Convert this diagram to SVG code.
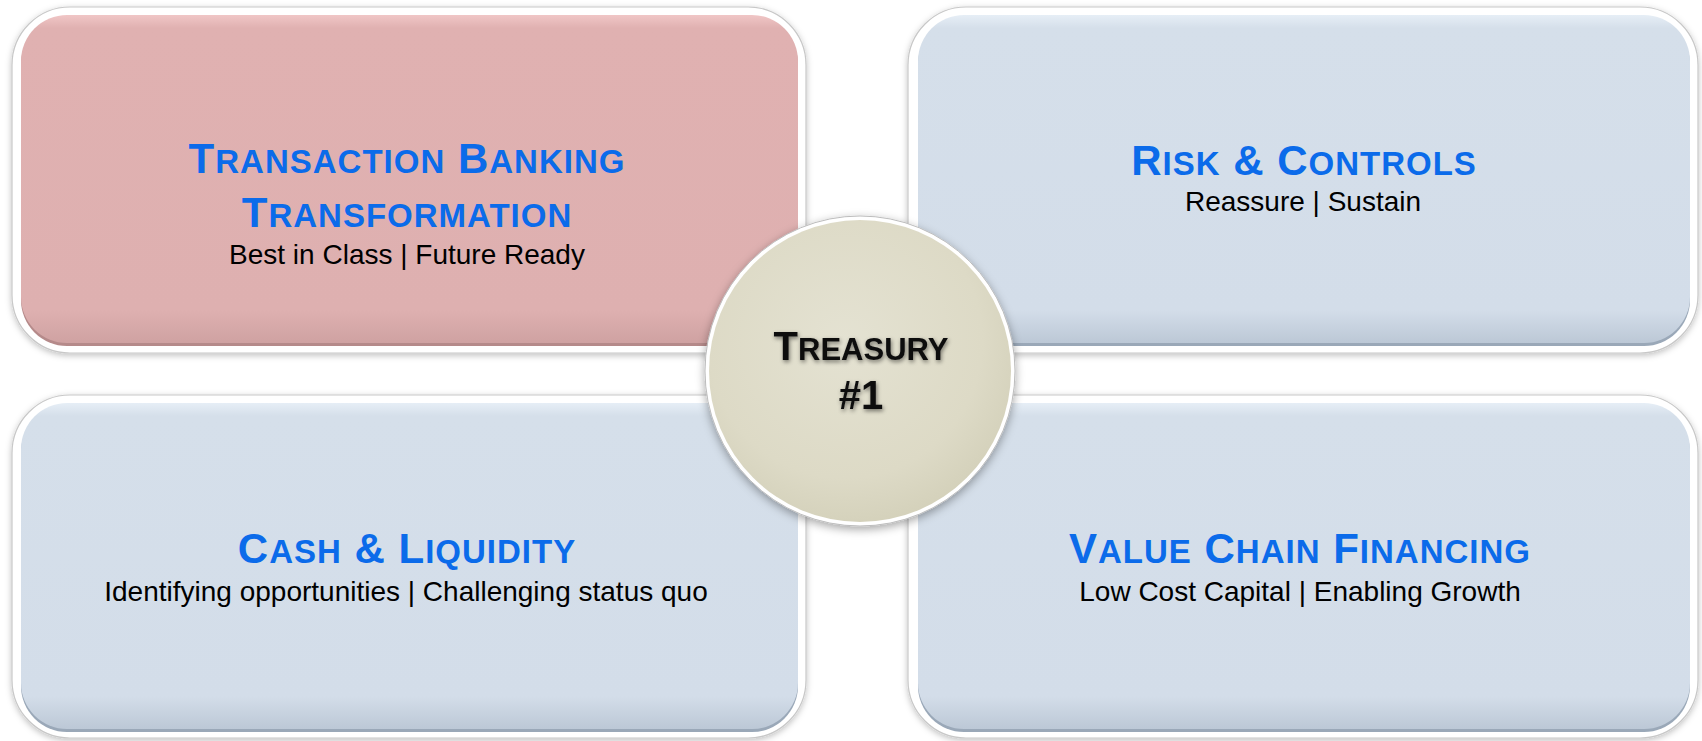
<svg xmlns="http://www.w3.org/2000/svg" width="1702" height="741" viewBox="0 0 1702 741">
  <defs>
    <style>
      .frame { fill: #ffffff; stroke: #c8c8c8; stroke-width: 1.2; filter: url(#outerShadow); }
      .title { font-family: "Liberation Sans", Arial, sans-serif; font-weight: bold; fill: #0B6BEA; text-anchor: middle; font-size: 42px; letter-spacing: 1px; }
      .sc { font-size: 33px; }
      .sub { font-family: "Liberation Sans", Arial, sans-serif; fill: #000000; text-anchor: middle; font-size: 28px; }
      .center { font-family: "Liberation Sans", Arial, sans-serif; font-weight: bold; fill: #111111; text-anchor: middle; font-size: 40px; filter: url(#textShadow); }
      .csc { font-size: 31px; }
    </style>
    <filter id="outerShadow" x="-5%" y="-5%" width="110%" height="115%">
      <feDropShadow dx="0" dy="2" stdDeviation="3" flood-color="#000000" flood-opacity="0.25"/>
    </filter>
    <filter id="circleShadow" x="-20%" y="-20%" width="140%" height="140%">
      <feDropShadow dx="0" dy="3" stdDeviation="5" flood-color="#000000" flood-opacity="0.35"/>
    </filter>
    <filter id="textShadow" x="-10%" y="-30%" width="120%" height="160%">
      <feGaussianBlur in="SourceAlpha" stdDeviation="2.2"/>
      <feOffset dx="1" dy="2" result="b"/>
      <feFlood flood-color="#000000" flood-opacity="0.5"/>
      <feComposite in2="b" operator="in" result="s"/>
      <feMerge><feMergeNode in="s"/><feMergeNode in="SourceGraphic"/></feMerge>
    </filter>
    <linearGradient id="pinkFill" x1="0" y1="0" x2="0" y2="1">
      <stop offset="0" stop-color="#F0C6C6"/>
      <stop offset="0.04" stop-color="#E0B1B1"/>
      <stop offset="0.9" stop-color="#DEB0B0"/>
      <stop offset="1" stop-color="#CFA2A2"/>
    </linearGradient>
    <linearGradient id="blueFill" x1="0" y1="0" x2="0" y2="1">
      <stop offset="0" stop-color="#E6EEF6"/>
      <stop offset="0.04" stop-color="#D5DFEA"/>
      <stop offset="0.9" stop-color="#D3DDE9"/>
      <stop offset="1" stop-color="#BCC8D6"/>
    </linearGradient>
    <radialGradient id="circleFill" cx="0.45" cy="0.4" r="0.65">
      <stop offset="0" stop-color="#E4E2D2"/>
      <stop offset="0.7" stop-color="#DDDAC6"/>
      <stop offset="1" stop-color="#D2CFB8"/>
    </radialGradient>
  </defs>

  <rect width="1702" height="741" fill="#ffffff"/>

  <g id="node-transaction-banking">
    <rect class="frame" x="12" y="7" width="794" height="346" rx="58" ry="58"/>
    <rect x="21" y="18" width="777" height="328" rx="46" ry="46" fill="#B58A8A"/>
    <rect x="21" y="15" width="777" height="328" rx="46" ry="46" fill="url(#pinkFill)"/>
    <text class="title" x="407" y="173">T<tspan class="sc">RANSACTION</tspan> B<tspan class="sc">ANKING</tspan></text>
    <text class="title" x="407" y="227">T<tspan class="sc">RANSFORMATION</tspan></text>
    <text class="sub" x="407" y="264">Best in Class | Future Ready</text>
  </g>

  <g id="node-risk-controls">
    <rect class="frame" x="908" y="7" width="790" height="346" rx="58" ry="58"/>
    <rect x="918" y="18" width="772" height="328" rx="46" ry="46" fill="#9AA8B8"/>
    <rect x="918" y="15" width="772" height="328" rx="46" ry="46" fill="url(#blueFill)"/>
    <text class="title" x="1304" y="175">R<tspan class="sc">ISK</tspan> &amp; C<tspan class="sc">ONTROLS</tspan></text>
    <text class="sub" x="1303" y="211">Reassure | Sustain</text>
  </g>

  <g id="node-cash-liquidity">
    <rect class="frame" x="12" y="395" width="794" height="343" rx="58" ry="58"/>
    <rect x="21" y="406" width="777" height="326" rx="46" ry="46" fill="#9AA8B8"/>
    <rect x="21" y="403" width="777" height="326" rx="46" ry="46" fill="url(#blueFill)"/>
    <text class="title" x="407" y="563">C<tspan class="sc">ASH</tspan> &amp; L<tspan class="sc">IQUIDITY</tspan></text>
    <text class="sub" x="406" y="601">Identifying opportunities | Challenging status quo</text>
  </g>

  <g id="node-value-chain">
    <rect class="frame" x="908" y="395" width="790" height="343" rx="58" ry="58"/>
    <rect x="918" y="406" width="772" height="326" rx="46" ry="46" fill="#9AA8B8"/>
    <rect x="918" y="403" width="772" height="326" rx="46" ry="46" fill="url(#blueFill)"/>
    <text class="title" x="1300" y="563">V<tspan class="sc">ALUE</tspan> C<tspan class="sc">HAIN</tspan> F<tspan class="sc">INANCING</tspan></text>
    <text class="sub" x="1300" y="601">Low Cost Capital | Enabling Growth</text>
  </g>

  <g id="node-treasury">
    <circle cx="860" cy="371" r="155" fill="#ffffff" stroke="#bdbdbd" stroke-width="1" filter="url(#circleShadow)"/>
    <circle cx="860" cy="371" r="151" fill="url(#circleFill)"/>
    <text class="center" x="861" y="360">T<tspan class="csc">REASURY</tspan></text>
    <text class="center" x="861" y="409">#1</text>
  </g>

  <g id="connectors"/>
</svg>
